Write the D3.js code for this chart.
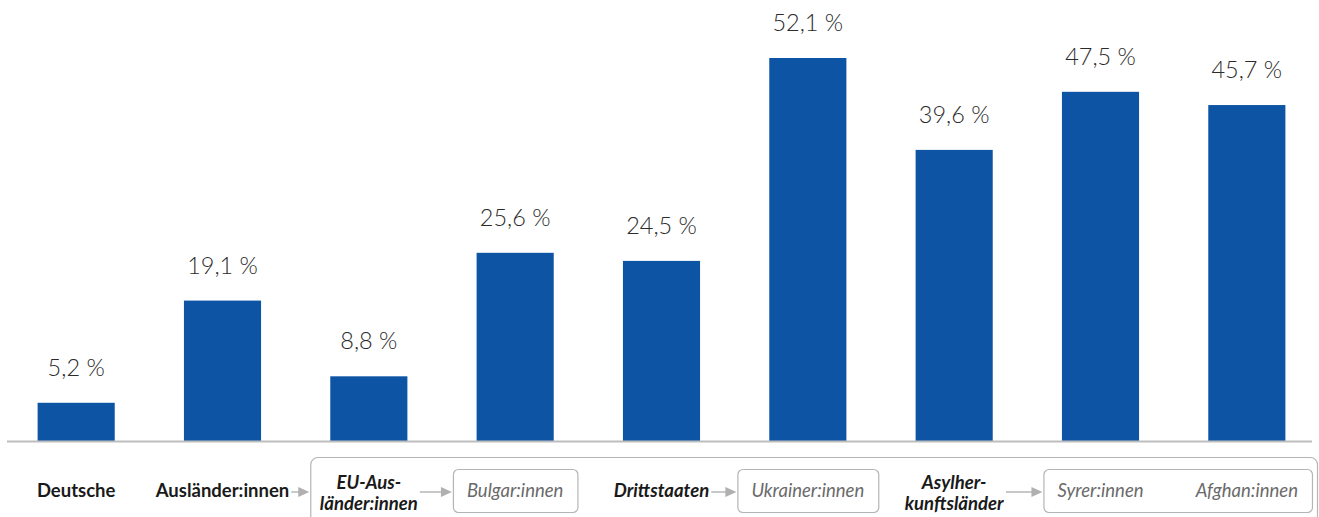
<!DOCTYPE html>
<html>
<head>
<meta charset="utf-8">
<script src="https://cdn.jsdelivr.net/npm/d3@7"></script>
<style>
  html, body { margin: 0; padding: 0; background: #fff; }
  svg { display: block; font-family: Lato, "Open Sans", sans-serif; }
</style>
</head>
<body>
<svg id="chart" width="1319" height="517"></svg>
<script>
// Share of each group (percent)
const categories = ["Deutsche", "Ausländer:innen", "EU-Ausländer:innen", "Bulgar:innen",
  "Drittstaaten", "Ukrainer:innen", "Asylherkunftsländer", "Syrer:innen", "Afghan:innen"];
const values = [5.2, 19.1, 8.8, 25.6, 24.5, 52.1, 39.6, 47.5, 45.7];
const valueLabels = ["5,2 %", "19,1 %", "8,8 %", "25,6 %", "24,5 %", "52,1 %", "39,6 %", "47,5 %", "45,7 %"];
// Axis label lines (several are hyphenated over two lines)
const tickLabels = [["Deutsche"], ["Ausländer:innen"], ["EU-Aus-", "länder:innen"], ["Bulgar:innen"],
  ["Drittstaaten"], ["Ukrainer:innen"], ["Asylher-", "kunftsländer"], ["Syrer:innen"], ["Afghan:innen"]];
// Label style: 0 = bold, 1 = bold italic (subgroup), 2 = italic in a box (nationality)
const tickKinds = [0, 0, 1, 2, 1, 2, 1, 2, 2];
// Nested structure: arrows from a group to its breakdown
const arrows = [["Ausländer:innen", "EU-Ausländer:innen"], ["EU-Ausländer:innen", "Bulgar:innen"],
  ["Drittstaaten", "Ukrainer:innen"], ["Asylherkunftsländer", "Syrer:innen"]];
const nationalityBoxes = [["Bulgar:innen"], ["Ukrainer:innen"], ["Syrer:innen", "Afghan:innen"]];
const outerBox = ["EU-Ausländer:innen", "Afghan:innen"];

const W = 1319, H = 517;
const baseY = 441;
const svg = d3.select("#chart");

const x = d3.scaleBand().domain(categories).range([3, 1320]).paddingInner(0.473).paddingOuter(0.2365);
const y = d3.scaleLinear().domain([0, 52.1]).range([baseY, 58]);

// Bars
svg.append("g").selectAll("rect").data(categories).join("rect")
  .attr("x", d => x(d))
  .attr("y", (d, i) => y(values[i]))
  .attr("width", x.bandwidth())
  .attr("height", (d, i) => baseY - y(values[i]))
  .attr("fill", "#0e54a5");

// Value labels
svg.append("g").selectAll("text").data(categories).join("text")
  .attr("x", d => x(d) + x.bandwidth() / 2)
  .attr("y", (d, i) => y(values[i]) - 27)
  .attr("text-anchor", "middle")
  .attr("font-size", 23.5)
  .attr("font-weight", 300)
  .attr("fill", "#2b2b2b")
  .text((d, i) => valueLabels[i]);

// Baseline
svg.append("line")
  .attr("x1", 7).attr("x2", 1312)
  .attr("y1", baseY + 0.5).attr("y2", baseY + 0.5)
  .attr("stroke", "#bdbdbd").attr("stroke-width", 2);

// Category labels
const cx = d => x(d) + x.bandwidth() / 2;
const labelG = svg.append("g");
const labelNodes = {};
categories.forEach((c, i) => {
  const kind = tickKinds[i];
  const lines = tickLabels[i];
  const t = labelG.append("text")
    .attr("text-anchor", "middle")
    .attr("font-size", 18.5)
    .attr("font-weight", kind === 2 ? 400 : 700)
    .attr("font-style", kind === 0 ? "normal" : "italic")
    .attr("fill", kind === 2 ? "#6a6a6a" : "#1a1a1a");
  const y0 = lines.length === 1 ? 497 : 489;
  lines.forEach((ln, j) => {
    t.append("tspan").attr("x", cx(c)).attr("y", y0 + j * 21).text(ln);
  });
  labelNodes[c] = t.node();
});

// Outer rounded frame around the breakdown of foreign nationals
const outerLeft = x(outerBox[0]) - 20;
svg.append("rect")
  .attr("x", outerLeft + 0.5).attr("y", 457.5)
  .attr("width", W - 2 - outerLeft).attr("height", 80)
  .attr("rx", 7)
  .attr("fill", "none").attr("stroke", "#b5b5b5").attr("stroke-width", 1.2);

// Boxes around nationalities
const boxRects = {};
nationalityBoxes.forEach(group => {
  const bbs = group.map(c => labelNodes[c].getBBox());
  const left = d3.min(bbs, b => b.x) - 14;
  const right = d3.max(bbs, b => b.x + b.width) + 14;
  svg.insert("rect", "g")
    .attr("x", left + 0.5).attr("y", 469.5)
    .attr("width", right - left).attr("height", 43)
    .attr("rx", 5)
    .attr("fill", "#fff").attr("stroke", "#b5b5b5").attr("stroke-width", 1.2);
  group.forEach(c => { boxRects[c] = left; });
});

// Arrows
const arrowG = svg.append("g");
arrows.forEach(([from, to]) => {
  const fb = labelNodes[from].getBBox();
  const x1 = fb.x + fb.width + 2;
  const x2 = (boxRects[to] !== undefined ? boxRects[to] : outerLeft) - 1;
  const ay = 492;
  arrowG.append("line")
    .attr("x1", x1).attr("x2", x2 - 9)
    .attr("y1", ay).attr("y2", ay)
    .attr("stroke", "#aaa").attr("stroke-width", 1.3);
  arrowG.append("path")
    .attr("d", `M${x2 - 11},${ay - 5}L${x2},${ay}L${x2 - 11},${ay + 5}Z`)
    .attr("fill", "#b0b0b0");
});
</script>
</body>
</html>
